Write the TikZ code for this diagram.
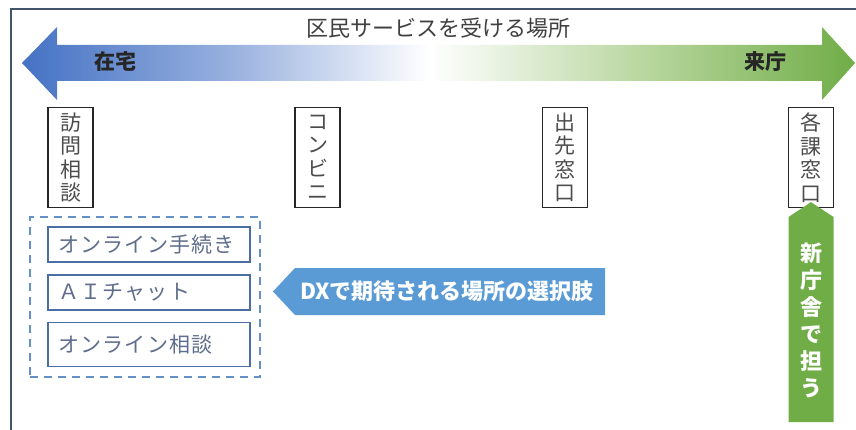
\documentclass[tikz,border=0pt]{standalone}
\usepackage{fontspec}
\newfontfamily\jp{Noto Sans CJK JP}
\newfontfamily\jpsp{Noto Sans CJK JP}[LetterSpace=6]
\definecolor{framec}{RGB}{68,84,106}
\definecolor{bigblue}{RGB}{68,114,196}
\definecolor{midblue}{RGB}{150,175,222}
\definecolor{biggreen}{RGB}{112,173,71}
\definecolor{midgreen}{RGB}{185,215,160}
\definecolor{dxblue}{RGB}{91,155,213}
\definecolor{dashc}{RGB}{100,145,200}
\definecolor{optblue}{RGB}{75,110,165}
\definecolor{opttext}{RGB}{95,110,140}
\definecolor{txtgray}{RGB}{64,64,64}
\begin{document}
\begin{tikzpicture}[x=1pt,y=-1pt,
  vbox/.style={draw=black!85, line width=1.3pt, minimum width=45pt, minimum height=100pt, inner sep=0pt, align=center, font=\jp\fontsize{21}{23.5}\selectfont, text=black!70},
  optbox/.style={draw=optblue, line width=1.3pt, minimum width=202pt, inner xsep=10pt, inner ysep=0pt, text width=182pt, align=left, text=opttext, font=\jpsp\fontsize{21}{24}\selectfont},
  boldw/.style={text=white, font=\jp\bfseries\fontsize{22}{27}\selectfont},
  ends/.style={text=black!85, font=\jp\bfseries\fontsize{21}{24}\selectfont}
]
\useasboundingbox (0,0) rectangle (856,430);
\fill[white] (0,0) rectangle (856,430);
% frame
\draw[framec, line width=2pt] (11,430) -- (11,9) -- (860,9);

% big double arrow
\shade[left color=bigblue, right color=white, middle color=midblue]
  (22,63) -- (57,27) -- (57,45) -- (430,45) -- (430,81) -- (57,81) -- (57,100) -- cycle;
\shade[left color=white, right color=biggreen, middle color=midgreen]
  (430,45) -- (822,45) -- (822,27) -- (855,63) -- (822,100) -- (822,81) -- (430,81) -- cycle;

\node[text=txtgray, font=\jp\fontsize{22}{26}\selectfont] (title) at (438,28) {区民サービスを受ける場所};
\node[ends] (home) at (115,62) {在宅};
\node[ends] (visit) at (765,62) {来庁};

% vertical boxes
\node[vbox] (houmon) at (70.5,157.5) {訪\\問\\相\\談};
\node[vbox] (konbini) at (317.5,157.5) {コ\\ン\\ビ\\ニ};
\node[vbox] (desaki) at (565,157.5) {出\\先\\窓\\口};
\node[vbox] (kaka) at (811,157.5) {各\\課\\窓\\口};

% dashed group
\node[draw=dashc, dashed, dash pattern=on 8pt off 6pt, line width=1.8pt, minimum width=230pt, minimum height=160pt] (group) at (145,297) {};
\node[optbox, minimum height=35pt] (opt1) at (149,244.5) {オンライン手続き};
\node[optbox, minimum height=35pt] (opt2) at (149,292.5) {ＡＩチャット};
\node[optbox, minimum height=44pt] (opt3) at (149,344.5) {オンライン相談};

% DX arrow
\fill[dxblue] (273,291.5) -- (295,268) -- (605,268) -- (605,315) -- (295,315) -- cycle;
\node[boldw] (dx) at (447,291.5) {DXで期待される場所の選択肢};

% green up arrow
\fill[biggreen] (kaka.south) ++(0,-6) coordinate (gtip) -- (833.5,217) -- (833.5,422) -- (788.5,422) -- (788.5,217) -- cycle;
\node[boldw, align=center] (shin) at (811,320) {新\\庁\\舎\\で\\担\\う};
\end{tikzpicture}
\end{document}
